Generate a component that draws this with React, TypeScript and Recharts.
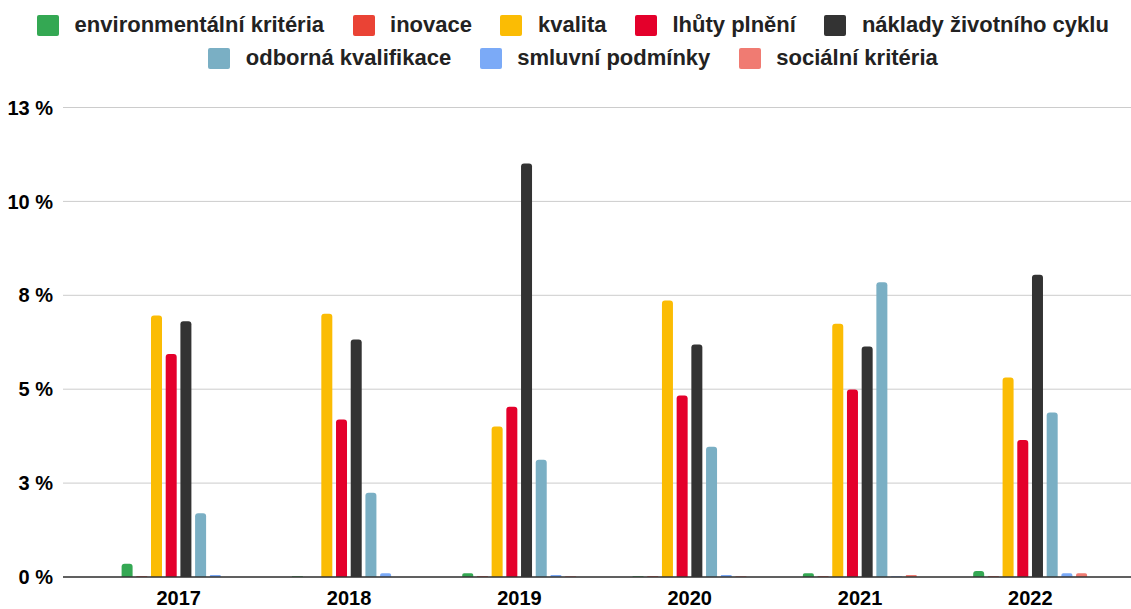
import { BarChart, Bar, XAxis, YAxis, CartesianGrid } from 'recharts';

const years = ['2017', '2018', '2019', '2020', '2021', '2022'];

const environmentalni = [0.35, 0.02, 0.1, 0.02, 0.1, 0.16];
const inovace = [0.02, 0, 0.02, 0.02, 0.02, 0.02];
const kvalita = [6.96, 7.01, 4.01, 7.36, 6.74, 5.31];
const lhuty = [5.94, 4.19, 4.53, 4.83, 4.99, 3.65];
const naklady = [6.81, 6.32, 11.01, 6.19, 6.14, 8.05];
const odborna = [1.7, 2.24, 3.12, 3.47, 7.85, 4.38];
const smluvni = [0.05, 0.1, 0.05, 0.05, 0.02, 0.1];
const socialni = [0, 0, 0.02, 0.02, 0.05, 0.1];

const yTicks = [0, 2.5, 5, 7.5, 10, 12.5];
const yTickLabels = ['0 %', '3 %', '5 %', '8 %', '10 %', '13 %'];

const series = [
  { key: 'env', name: 'environmentální kritéria', color: '#34a853', values: environmentalni },
  { key: 'inov', name: 'inovace', color: '#ea4335', values: inovace },
  { key: 'kval', name: 'kvalita', color: '#fbbc04', values: kvalita },
  { key: 'lhuty', name: 'lhůty plnění', color: '#e4002b', values: lhuty },
  { key: 'nakl', name: 'náklady životního cyklu', color: '#333333', values: naklady },
  { key: 'odb', name: 'odborná kvalifikace', color: '#7aafc4', values: odborna },
  { key: 'smluv', name: 'smluvní podmínky', color: '#7baaf7', values: smluvni },
  { key: 'soc', name: 'sociální kritéria', color: '#f07b72', values: socialni },
];

const data = years.map((year, i) => {
  const row: Record<string, string | number> = { year };
  series.forEach((s) => {
    row[s.key] = s.values[i];
  });
  return row;
});

const font = '"Liberation Sans", Arial, sans-serif';

function LegendRow({ items, top }: { items: typeof series; top: number }) {
  return (
    <div
      style={{
        position: 'absolute',
        top,
        left: 15,
        width: 1116,
        display: 'flex',
        justifyContent: 'center',
        alignItems: 'center',
        height: 22,
      }}
    >
      {items.map((s, i) => (
        <div
          key={s.key}
          style={{ display: 'flex', alignItems: 'center', marginLeft: i === 0 ? 0 : 28.5 }}
        >
          <div
            style={{ width: 22, height: 21, background: s.color, borderRadius: 2, marginRight: 15.5 }}
          />
          <span style={{ fontFamily: font, fontWeight: 700, fontSize: 22, color: '#222', whiteSpace: 'nowrap' }}>
            {s.name}
          </span>
        </div>
      ))}
    </div>
  );
}

export default function App() {
  return (
    <div style={{ position: 'absolute', left: 0, top: 0, width: 1131, height: 609, background: '#fff' }}>
      <LegendRow items={series.slice(0, 5)} top={14} />
      <LegendRow items={series.slice(5)} top={47} />
      <BarChart
        width={1131}
        height={609}
        data={data}
        margin={{ top: 107.5, right: 0, left: 0, bottom: 0 }}
        barSize={11}
        barGap={3.7}
      >
        <CartesianGrid vertical={false} stroke="#cccccc" />
        <XAxis
          dataKey="year"
          height={32}
          padding={{ left: 30.6, right: 15.5 }}
          axisLine={{ stroke: '#333333', strokeWidth: 1.5 }}
          tickLine={false}
          tickSize={0}
          tickMargin={14}
          tick={{ fill: '#000', fontSize: 20, fontWeight: 700, fontFamily: font }}
        />
        <YAxis
          width={63}
          domain={[0, 12.5]}
          ticks={yTicks}
          interval={0}
          axisLine={false}
          tickLine={false}
          tickSize={0}
          tickMargin={10}
          tickFormatter={(v: number) => yTickLabels[yTicks.indexOf(v)]}
          tick={{ fill: '#000', fontSize: 20, fontWeight: 700, fontFamily: font }}
        />
        {series.map((s) => (
          <Bar
            key={s.key}
            dataKey={s.key}
            name={s.name}
            fill={s.color}
            radius={[3, 3, 0, 0]}
            isAnimationActive={false}
          />
        ))}
      </BarChart>
    </div>
  );
}
